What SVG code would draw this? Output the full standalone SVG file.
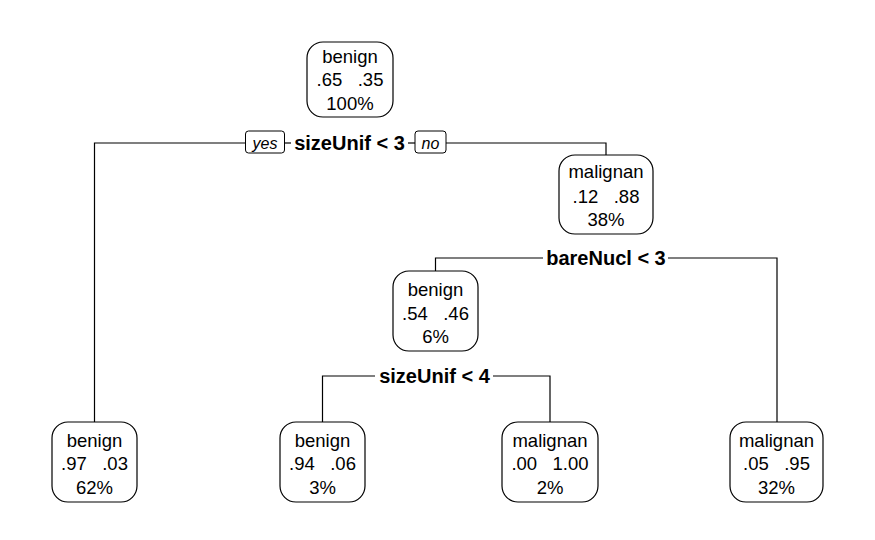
<svg xmlns="http://www.w3.org/2000/svg" width="875" height="540" viewBox="0 0 875 540">
<style>
.box{fill:#fff;stroke:#000;stroke-width:1.2}
.t{font-family:"Liberation Sans",Arial,sans-serif;font-size:18.5px;fill:#000;text-anchor:middle}
.s{font-family:"Liberation Sans",Arial,sans-serif;font-size:20px;font-weight:bold;fill:#000;text-anchor:middle}
.yn{font-family:"Liberation Sans",Arial,sans-serif;font-size:16px;font-style:italic;fill:#000;text-anchor:middle}
.ln{fill:none;stroke:#000;stroke-width:1.2}
.lab{fill:#fff;stroke:#000;stroke-width:1}
</style>
<rect width="875" height="540" fill="#fff"/>
<g id="connectors">
<polyline class="ln" points="245.5,143 94.5,143 94.5,422"/>
<line class="ln" x1="284.5" y1="143" x2="291" y2="143"/>
<line class="ln" x1="408" y1="143" x2="415" y2="143"/>
<polyline class="ln" points="446,143 606,143 606,155"/>
<polyline class="ln" points="543,258 435.5,258 435.5,271"/>
<polyline class="ln" points="668,258 777,258 777,422"/>
<polyline class="ln" points="375,376 322.5,376 322.5,422"/>
<polyline class="ln" points="493,376 550,376 550,422"/>
</g>
<g id="split1">
<rect class="lab" x="245.5" y="131" width="39" height="22" rx="3"/>
<text class="yn" x="265" y="148.5">yes</text>
<text class="s" x="349.5" y="150">sizeUnif &lt; 3</text>
<rect class="lab" x="415" y="131" width="31" height="22" rx="3"/>
<text class="yn" x="430.5" y="148.5">no</text>
</g>
<g id="split2">
<text class="s" x="606" y="265">bareNucl &lt; 3</text>
</g>
<g id="split3">
<text class="s" x="434.5" y="383">sizeUnif &lt; 4</text>
</g>
<g id="node1">
<rect class="box" x="307" y="42" width="86" height="75" rx="16"/>
<text class="t" x="350" y="63">benign</text>
<text class="t" x="350" y="86" xml:space="preserve">.65   .35</text>
<text class="t" x="350" y="110">100%</text>
</g>
<g id="node2">
<rect class="box" x="559" y="155" width="94" height="79" rx="16"/>
<text class="t" x="606" y="178">malignan</text>
<text class="t" x="606" y="202.5" xml:space="preserve">.12   .88</text>
<text class="t" x="606" y="226">38%</text>
</g>
<g id="node3">
<rect class="box" x="393" y="271" width="85" height="80" rx="16"/>
<text class="t" x="435.5" y="295.5">benign</text>
<text class="t" x="435.5" y="319.5" xml:space="preserve">.54   .46</text>
<text class="t" x="435.5" y="343">6%</text>
</g>
<g id="node4">
<rect class="box" x="52" y="422" width="85" height="80" rx="16"/>
<text class="t" x="94.5" y="446.5">benign</text>
<text class="t" x="94.5" y="470" xml:space="preserve">.97   .03</text>
<text class="t" x="94.5" y="493.5">62%</text>
</g>
<g id="node5">
<rect class="box" x="280" y="422" width="85" height="80" rx="16"/>
<text class="t" x="322.5" y="446.5">benign</text>
<text class="t" x="322.5" y="470" xml:space="preserve">.94   .06</text>
<text class="t" x="322.5" y="493.5">3%</text>
</g>
<g id="node6">
<rect class="box" x="502" y="422" width="96" height="80" rx="16"/>
<text class="t" x="550" y="446.5">malignan</text>
<text class="t" x="550" y="470" xml:space="preserve">.00   1.00</text>
<text class="t" x="550" y="493.5">2%</text>
</g>
<g id="node7">
<rect class="box" x="730" y="422" width="93" height="80" rx="16"/>
<text class="t" x="776.5" y="446.5">malignan</text>
<text class="t" x="776.5" y="470" xml:space="preserve">.05   .95</text>
<text class="t" x="776.5" y="493.5">32%</text>
</g>
</svg>
